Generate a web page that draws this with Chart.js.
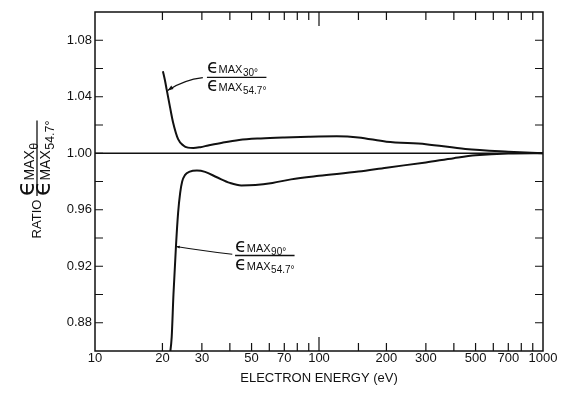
<!DOCTYPE html>
<html lang="en">
<head>
    <meta charset="UTF-8">
    <title>Ratio of maximum energy vs electron energy</title>
    <style>
        body {
            margin: 0;
            padding: 0;
            background: #fff;
        }
        canvas {
            display: block;
        }
    </style>
</head>
<body>
    <canvas id="myChart" width="566" height="393"></canvas>

    <script src="https://cdn.jsdelivr.net/npm/chart.js"></script>
    <script>
        // Curva superior: eMAX 30° / eMAX 54.7°
        const energy30 = [20.1, 20.5, 20.9, 21.6, 22.3, 23.5, 24.8, 26.0, 27.5, 29.5, 32, 37, 44, 55, 70, 90, 120, 150, 200, 300, 450, 700, 1000];
        const ratio30 = [1.058, 1.052, 1.045, 1.033, 1.022, 1.010, 1.0055, 1.004, 1.0037, 1.0043, 1.0055, 1.0075, 1.0094, 1.0105, 1.0112, 1.0117, 1.012, 1.0112, 1.0082, 1.0064, 1.003, 1.0011, 1.000];

        // Curva inferior: eMAX 90° / eMAX 54.7°
        const energy90 = [21.5, 22.0, 22.4, 23.0, 23.5, 24.0, 24.5, 25.2, 26.5, 28.5, 31, 35, 40, 45, 52, 62, 75, 100, 150, 200, 300, 400, 500, 700, 1000];
        const ratio90 = [0.855, 0.87, 0.90, 0.935, 0.958, 0.972, 0.980, 0.9845, 0.987, 0.9877, 0.9868, 0.983, 0.979, 0.9772, 0.9775, 0.979, 0.9815, 0.984, 0.987, 0.9898, 0.9935, 0.9965, 0.9985, 0.9998, 1.000];

        // Linha de referência em 1.00
        const refEnergy = [10, 1000];
        const refRatio = [1.00, 1.00];

        // Marcas dos eixos
        const xTicks = [10, 20, 30, 40, 50, 60, 70, 80, 90, 100, 150, 200, 300, 400, 500, 600, 700, 800, 900, 1000];
        const xTickLabels = [10, 20, 30, 50, 70, 100, 200, 300, 500, 700, 1000];
        const yTicks = [0.86, 0.88, 0.90, 0.92, 0.94, 0.96, 0.98, 1.00, 1.02, 1.04, 1.06, 1.08, 1.10];
        const yTickLabels = ['0.88', '0.92', '0.96', '1.00', '1.04', '1.08'];

        const ink = '#111';
        const sans = '"Liberation Sans", Arial, sans-serif';

        const pontos = (xs, ys) => xs.map((v, i) => ({ x: v, y: ys[i] }));

        // escreve "eMAX" com índice; devolve a largura
        function epsText(ctx, x, y, sub, sizes, draw) {
            let w = 0;
            ctx.textAlign = 'left';
            ctx.textBaseline = 'alphabetic';
            ctx.font = sizes.eps + 'px "DejaVu Sans"';
            if (draw) ctx.fillText('ϵ', x, y);
            w += ctx.measureText('ϵ').width;
            ctx.font = sizes.cap + 'px ' + sans;
            if (draw) ctx.fillText('MAX', x + w, y);
            w += ctx.measureText('MAX').width + 0.5;
            ctx.font = sizes.sub + 'px ' + sans;
            if (draw) ctx.fillText(sub, x + w, y + sizes.drop);
            w += ctx.measureText(sub).width;
            return w;
        }

        function fraction(ctx, x, y, numSub, denSub, sizes) {
            const wn = epsText(ctx, 0, 0, numSub, sizes, false);
            const wd = epsText(ctx, 0, 0, denSub, sizes, false);
            epsText(ctx, x, y - sizes.gapUp, numSub, sizes, true);
            epsText(ctx, x, y + sizes.gapDown, denSub, sizes, true);
            ctx.lineWidth = 1.3;
            ctx.beginPath();
            ctx.moveTo(x, y);
            ctx.lineTo(x + Math.max(wn, wd), y);
            ctx.stroke();
        }

        function arrow(ctx, x1, y1, cx, cy, x2, y2, head) {
            ctx.lineWidth = 1.2;
            ctx.beginPath();
            ctx.moveTo(x1, y1);
            ctx.quadraticCurveTo(cx, cy, x2, y2);
            ctx.stroke();
            const ang = Math.atan2(y2 - cy, x2 - cx);
            ctx.beginPath();
            ctx.moveTo(x2, y2);
            ctx.lineTo(x2 - head * Math.cos(ang - 0.35), y2 - head * Math.sin(ang - 0.35));
            ctx.lineTo(x2 - head * Math.cos(ang + 0.35), y2 - head * Math.sin(ang + 0.35));
            ctx.closePath();
            ctx.fill();
        }

        const molduraPlugin = {
            id: 'moldura',
            afterDraw(chart) {
                const { ctx, chartArea: a, scales: { x, y } } = chart;
                ctx.save();
                ctx.strokeStyle = ink;
                ctx.fillStyle = ink;

                // moldura
                ctx.lineWidth = 1.5;
                ctx.strokeRect(a.left, a.top, a.right - a.left, a.bottom - a.top);

                // marcas para dentro, nos quatro lados
                ctx.lineWidth = 1.2;
                ctx.beginPath();
                xTicks.forEach(v => {
                    if (v === 10 || v === 1000) return;
                    const p = x.getPixelForValue(v);
                    const len = v === 100 ? 14 : 8;
                    ctx.moveTo(p, a.bottom);
                    ctx.lineTo(p, a.bottom - len);
                    ctx.moveTo(p, a.top);
                    ctx.lineTo(p, a.top + len);
                });
                yTicks.forEach(v => {
                    if (v === 0.86 || v === 1.10) return;
                    const p = y.getPixelForValue(v);
                    ctx.moveTo(a.left, p);
                    ctx.lineTo(a.left + 8, p);
                    ctx.moveTo(a.right, p);
                    ctx.lineTo(a.right - 8, p);
                });
                ctx.stroke();

                // título do eixo x
                ctx.font = '13px ' + sans;
                ctx.textAlign = 'center';
                ctx.textBaseline = 'middle';
                ctx.fillText('ELECTRON ENERGY (eV)', (a.left + a.right) / 2, 378);

                // título do eixo y (girado)
                ctx.save();
                ctx.translate(37, 219);
                ctx.rotate(-Math.PI / 2);
                ctx.font = '13px ' + sans;
                ctx.textAlign = 'center';
                ctx.textBaseline = 'middle';
                ctx.fillText('RATIO', 0, 0);
                fraction(ctx, 23, 0, 'θ', '54.7°', { eps: 25, cap: 14, sub: 12.5, drop: 4, gapUp: 3, gapDown: 13 });
                ctx.restore();

                // rótulos das curvas
                const lbl = { eps: 19, cap: 11, sub: 10, drop: 3, gapUp: 4, gapDown: 14 };
                fraction(ctx, x.getPixelForValue(31.6), y.getPixelForValue(1.0537), '30°', '54.7°', lbl);
                fraction(ctx, x.getPixelForValue(42.2), y.getPixelForValue(0.9276), '90°', '54.7°', lbl);

                // setas
                arrow(ctx,
                    x.getPixelForValue(30.3), y.getPixelForValue(1.0535),
                    x.getPixelForValue(25), y.getPixelForValue(1.052),
                    x.getPixelForValue(21.1), y.getPixelForValue(1.0445), 6);
                arrow(ctx,
                    x.getPixelForValue(41), y.getPixelForValue(0.9285),
                    x.getPixelForValue(30), y.getPixelForValue(0.931),
                    x.getPixelForValue(23.0), y.getPixelForValue(0.934), 4);

                ctx.restore();
            }
        };

        const ctx = document.getElementById('myChart').getContext('2d');
        const myChart = new Chart(ctx, {
            type: 'line',
            data: {
                datasets: [
                    {
                        label: '30° / 54.7°',
                        data: pontos(energy30, ratio30),
                        borderColor: ink,
                        borderWidth: 2,
                        pointRadius: 0,
                        cubicInterpolationMode: 'monotone'
                    },
                    {
                        label: '90° / 54.7°',
                        data: pontos(energy90, ratio90),
                        borderColor: ink,
                        borderWidth: 2,
                        pointRadius: 0,
                        cubicInterpolationMode: 'monotone'
                    },
                    {
                        label: '1.00',
                        data: pontos(refEnergy, refRatio),
                        borderColor: ink,
                        borderWidth: 1.3,
                        pointRadius: 0
                    }
                ]
            },
            options: {
                responsive: false,
                animation: false,
                layout: {
                    padding: { left: 0, top: 12, right: 23, bottom: 0 }
                },
                plugins: {
                    legend: { display: false },
                    tooltip: { enabled: false }
                },
                scales: {
                    x: {
                        type: 'logarithmic',
                        min: 10,
                        max: 1000,
                        grid: { display: false, drawTicks: false },
                        border: { display: false },
                        afterBuildTicks: scale => {
                            scale.ticks = xTicks.map(v => ({ value: v }));
                        },
                        afterFit: scale => {
                            scale.height = 42;
                        },
                        ticks: {
                            autoSkip: false,
                            maxRotation: 0,
                            padding: 0,
                            color: ink,
                            font: { family: sans, size: 13 },
                            callback: v => xTickLabels.includes(v) ? String(v) : ''
                        }
                    },
                    y: {
                        type: 'linear',
                        min: 0.86,
                        max: 1.10,
                        grid: { display: false, drawTicks: false },
                        border: { display: false },
                        afterBuildTicks: scale => {
                            scale.ticks = yTicks.map(v => ({ value: v }));
                        },
                        afterFit: scale => {
                            scale.width = 95;
                        },
                        ticks: {
                            autoSkip: false,
                            padding: 3,
                            color: ink,
                            font: { family: sans, size: 13 },
                            callback: v => {
                                const s = Number(v).toFixed(2);
                                return yTickLabels.includes(s) ? s : '';
                            }
                        }
                    }
                }
            },
            plugins: [molduraPlugin]
        });
    </script>
</body>
</html>
